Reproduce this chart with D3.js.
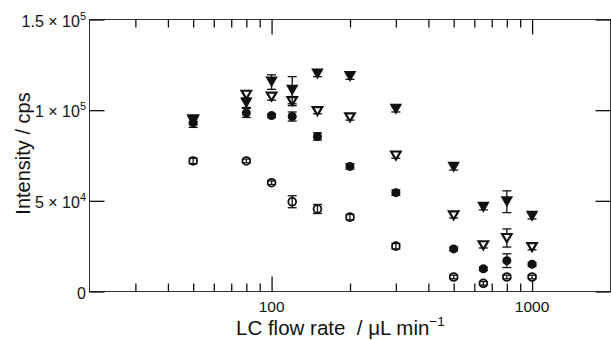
<!DOCTYPE html>
<html><head><meta charset="utf-8">
<script src="https://cdn.jsdelivr.net/npm/d3@7"></script>
<style>
html,body{margin:0;padding:0;background:#fff;}
svg{display:block;font-family:"Liberation Sans",Arial,Helvetica,sans-serif;}
text{white-space:pre;}
</style></head>
<body>
<svg id="chart" width="611" height="340"></svg>
<script>
// ---- data ----
const flowRates = [50, 80, 100, 120, 150, 200, 300, 500, 650, 800, 1000];
const filledTriangle = [94000, 104000, 115500, 111000, 120000, 118500, 100500, 68500, 46500, 49500, 41500];
const filledTriangleErr = [2000, 2500, 4000, 7500, 1500, 1500, 1500, 1500, 1500, 6000, 1500];
const openTriangle = [95000, 108500, 107500, 105000, 99500, 96000, 75000, 42000, 25500, 29500, 24500];
const openTriangleErr = [1500, 2000, 2000, 2500, 1500, 1500, 1500, 1500, 1500, 5000, 1500];
const filledCircle = [93000, 98500, 97000, 96500, 85500, 69000, 54500, 23500, 12500, 17000, 15000];
const filledCircleErr = [2500, 2500, 1000, 2500, 2000, 1500, 1500, 1000, 1000, 3800, 1000];
const openCircle = [72000, 72000, 60000, 49500, 45500, 41000, 25000, 8000, 4500, 8000, 8000];
const openCircleErr = [1500, 1000, 1000, 3300, 2500, 1500, 1500, 1000, 1000, 1000, 1000];
const xMajorTicks = [100, 1000];
const xMinorTicks = [30, 40, 50, 60, 70, 80, 90, 200, 300, 400, 500, 600, 700, 800, 900];
const yTicks = [0, 50000, 100000, 150000];
const yTickLabels = [["0", ""], ["5 × 10", "4"], ["1 × 10", "5"], ["1.5 × 10", "5"]];
const xTitle = "LC flow rate  / μL min";
const xTitleSup = "−1";
const yTitle = "Intensity / cps";

// ---- layout ----
const L = 89.5, R = 610.5, T = 19.5, B = 291.5;
const svg = d3.select("#chart");
const x = d3.scaleLog().domain([20, 2000]).range([L, R]);
const y = d3.scaleLinear().domain([0, 150000]).range([B, T]);
const ink = "#111";

// frame
svg.append("rect").attr("x", L).attr("y", T).attr("width", R - L).attr("height", B - T)
  .attr("fill", "none").attr("stroke", "#333").attr("stroke-width", 1);

function tickAxis(axis, tr) {
  const g = svg.append("g").attr("transform", tr).call(axis);
  g.select(".domain").remove();
  g.selectAll("line").attr("stroke", ink).attr("stroke-width", 1.3);
  return g;
}
// x ticks (inward) bottom & top
tickAxis(d3.axisBottom(x).tickValues(xMajorTicks).tickSize(-15).tickFormat(""), `translate(0,${B})`);
tickAxis(d3.axisBottom(x).tickValues(xMinorTicks).tickSize(-8).tickFormat(""), `translate(0,${B})`);
tickAxis(d3.axisTop(x).tickValues(xMajorTicks).tickSize(-15).tickFormat(""), `translate(0,${T})`);
tickAxis(d3.axisTop(x).tickValues(xMinorTicks).tickSize(-8).tickFormat(""), `translate(0,${T})`);
// y ticks left & right
tickAxis(d3.axisLeft(y).tickValues(yTicks).tickSize(-15).tickFormat(""), `translate(${L},0)`);
tickAxis(d3.axisRight(y).tickValues(yTicks).tickSize(-15).tickFormat(""), `translate(${R},0)`);

// x tick labels
svg.append("g").selectAll("text").data(xMajorTicks).join("text")
  .attr("x", d => x(d)).attr("y", 312).attr("text-anchor", "middle")
  .attr("font-size", 15.5).attr("fill", ink).text(d => d3.format("d")(d));

// y tick labels
const yl = svg.append("g").selectAll("text").data(yTicks).join("text")
  .attr("x", 86).attr("y", d => y(d) + 7).attr("text-anchor", "end")
  .attr("font-size", 16).attr("fill", ink);
yl.append("tspan").text((d, i) => yTickLabels[i][0]);
yl.append("tspan").attr("dy", -7).attr("font-size", 11).text((d, i) => yTickLabels[i][1]);

// titles
const xt = svg.append("text").attr("x", 236).attr("y", 335).attr("font-size", 20.5).attr("fill", ink);
xt.append("tspan").text(xTitle);
xt.append("tspan").attr("dy", -9).attr("font-size", 13.5).text(xTitleSup);
svg.append("text").attr("transform", `translate(29.5,153.5) rotate(-90)`)
  .attr("text-anchor", "middle").attr("font-size", 20).attr("fill", ink).text(yTitle);

// series
function rows(vals, errs) { return flowRates.map((f, i) => ({ f, v: vals[i], e: errs[i] })); }
function errorBars(data) {
  const g = svg.append("g").attr("stroke", ink).attr("stroke-width", 1.3);
  data.forEach(d => {
    const y1 = y(d.v - d.e), y2 = y(d.v + d.e), cx = x(d.f);
    g.append("line").attr("x1", cx).attr("x2", cx).attr("y1", y1).attr("y2", y2);
    g.append("line").attr("x1", cx - 4.5).attr("x2", cx + 4.5).attr("y1", y1).attr("y2", y1);
    g.append("line").attr("x1", cx - 4.5).attr("x2", cx + 4.5).attr("y1", y2).attr("y2", y2);
  });
}
const downTri = (w, h) => `M${-w / 2},${-h / 2}L${w / 2},${-h / 2}L0,${h / 2}Z`;

// open circles
const oc = rows(openCircle, openCircleErr);
svg.append("g").selectAll("circle").data(oc).join("circle")
  .attr("cx", d => x(d.f)).attr("cy", d => y(d.v)).attr("r", 3.9)
  .attr("fill", "#fff").attr("stroke", ink).attr("stroke-width", 1.8);
errorBars(oc);

// filled circles
const fc = rows(filledCircle, filledCircleErr);
errorBars(fc);
svg.append("g").selectAll("circle").data(fc).join("circle")
  .attr("cx", d => x(d.f)).attr("cy", d => y(d.v)).attr("r", 4.5).attr("fill", ink);

// open triangles
const ot = rows(openTriangle, openTriangleErr);
errorBars(ot);
svg.append("g").selectAll("path").data(ot).join("path")
  .attr("transform", d => `translate(${x(d.f)},${y(d.v)})`).attr("d", downTri(9.5, 8))
  .attr("fill", "#fff").attr("stroke", ink).attr("stroke-width", 2.2).attr("stroke-linejoin", "miter");

// filled triangles
const ft = rows(filledTriangle, filledTriangleErr);
errorBars(ft);
svg.append("g").selectAll("path").data(ft).join("path")
  .attr("transform", d => `translate(${x(d.f)},${y(d.v)})`).attr("d", downTri(12.5, 11))
  .attr("fill", ink);
</script>
</body></html>
